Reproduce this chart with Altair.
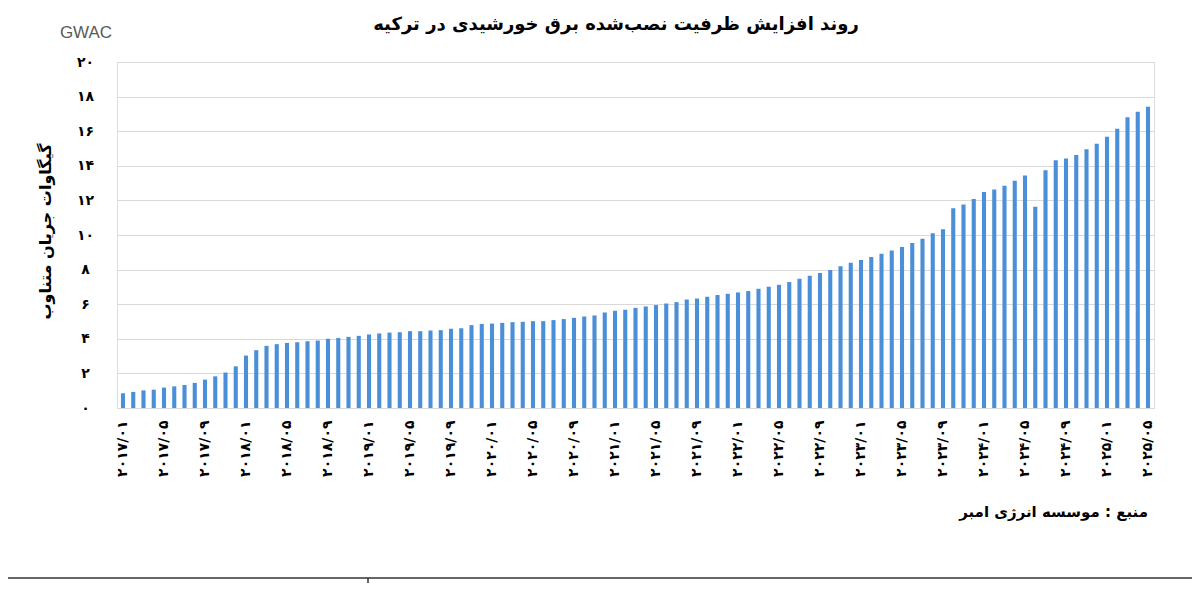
import altair as alt
import pandas as pd

FA = str.maketrans("0123456789", "۰۱۲۳۴۵۶۷۸۹")

title_text = "روند افزایش ظرفیت نصب‌شده برق خورشیدی در ترکیه"
y_title = "گیگاوات جریان متناوب"
unit_text = "GWAC"
source_text = "منبع : موسسه انرژی امبر"

years = list(range(2017, 2026))
months = [f"{y}/{m:02d}" for y in years for m in range(1, 13)][:101]
month_labels = [m.translate(FA) for m in months]
tick_months = month_labels[::4]

capacity_gw = [
    0.85, 0.93, 1.02, 1.06, 1.18, 1.25, 1.33, 1.45, 1.64, 1.83, 2.05, 2.41,
    3.03, 3.34, 3.59, 3.69, 3.76, 3.80, 3.86, 3.90, 4.00, 4.05, 4.11, 4.17,
    4.25, 4.31, 4.36, 4.38, 4.44, 4.44, 4.48, 4.50, 4.58, 4.61, 4.79, 4.86,
    4.88, 4.92, 4.96, 4.98, 5.02, 5.02, 5.08, 5.14, 5.21, 5.29, 5.35, 5.52,
    5.62, 5.68, 5.79, 5.87, 5.95, 6.04, 6.12, 6.27, 6.33, 6.43, 6.53, 6.60,
    6.68, 6.76, 6.89, 7.01, 7.12, 7.28, 7.47, 7.64, 7.80, 7.97, 8.20, 8.40,
    8.55, 8.73, 8.92, 9.11, 9.31, 9.54, 9.79, 10.10, 10.33, 11.54, 11.76, 12.08,
    12.49, 12.63, 12.84, 13.13, 13.44, 11.64, 13.75, 14.32, 14.42, 14.63, 14.96, 15.27,
    15.68, 16.14, 16.81, 17.12, 17.41,
]

y_ticks = list(range(0, 21, 2))
y_tick_labels = [str(v).translate(FA) for v in y_ticks]

df = pd.DataFrame({"month": month_labels, "gw": capacity_gw})

W, H = 1037, 346
FONT = "DejaVu Sans"

label_array = "[" + ",".join(f"'{s}'" for s in y_tick_labels) + "]"

bars = alt.Chart(df).mark_bar(color="#4a8fd8").encode(
    x=alt.X(
        "month:N",
        sort=None,
        scale=alt.Scale(paddingInner=0.6, paddingOuter=0.385),
        axis=alt.Axis(
            values=tick_months,
            labelAngle=270,
            labelAlign="right",
            labelBaseline="middle",
            labelPadding=12,
            labelFont=FONT,
            labelFontWeight="bold",
            labelFontSize=14,
            labelColor="black",
            ticks=False,
            domainColor="#d9d9d9",
            title=None,
            grid=False,
        ),
    ),
    y=alt.Y(
        "gw:Q",
        scale=alt.Scale(domain=[0, 20], nice=False),
        axis=alt.Axis(
            values=y_ticks,
            labelExpr=f"{label_array}[round(datum.value/2)]",
            grid=True,
            gridColor="#d9d9d9",
            gridWidth=1.2,
            domain=False,
            ticks=False,
            labelAlign="center",
            labelPadding=32,
            labelFont=FONT,
            labelFontWeight="bold",
            labelFontSize=14,
            labelColor="black",
            title=y_title,
            titleX=-72,
            titleY=H / 2 - 4,
            titleAngle=-90,
            titleAlign="center",
            titleBaseline="middle",
            titleFont=FONT,
            titleFontWeight="bold",
            titleFontSize=16,
            titleColor="black",
        ),
    ),
)

def text_layer(txt, x, y, size, color="black", weight="bold", font=FONT, align="center"):
    return alt.Chart(pd.DataFrame({"t": [txt]})).mark_text(
        font=font, fontSize=size, fontWeight=weight, color=color,
        align=align, baseline="middle",
    ).encode(text="t:N", x=alt.value(x), y=alt.value(y))

title = text_layer(title_text, 499, -37, 18)
unit = text_layer(unit_text, -31, -29, 17, color="#595959", weight="normal", font="Liberation Sans")
source = text_layer(source_text, 1031, 450, 15, align="right")

bottom_line = alt.Chart(pd.DataFrame({"a": [0]})).mark_rule(color="#333333", strokeWidth=1.5).encode(
    x=alt.value(-109), x2=alt.value(1075), y=alt.value(516)
)
bottom_tick = alt.Chart(pd.DataFrame({"a": [0]})).mark_rule(color="#333333", strokeWidth=1.5).encode(
    x=alt.value(251), y=alt.value(516), y2=alt.value(540)
)

chart = alt.layer(bars, title, unit, source, bottom_line, bottom_tick).properties(
    width=W,
    height=H,
    autosize=alt.AutoSizeParams(type="none"),
    padding={"left": 109, "top": 54, "right": 38, "bottom": 175},
).configure_view(stroke=None).configure(background="white")

chart.save("out.html", embed_options={"renderer": "svg", "actions": False})
